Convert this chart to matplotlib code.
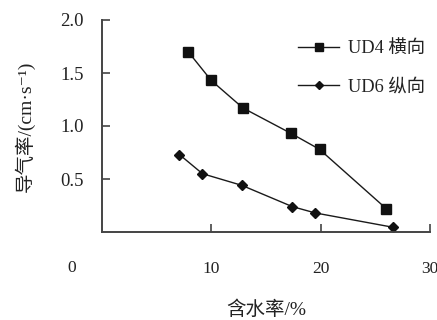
import matplotlib
matplotlib.use("Agg")
import matplotlib.pyplot as plt

# moisture content (%) and gas permeability (cm/s)
ud4_x = [7.9, 10.0, 12.9, 17.3, 19.9, 26.0]
ud4_y = [1.70, 1.43, 1.17, 0.93, 0.78, 0.22]
ud6_x = [7.1, 9.2, 12.8, 17.4, 19.5, 26.6]
ud6_y = [0.73, 0.55, 0.44, 0.24, 0.18, 0.045]
labels = ["UD4 横向", "UD6 纵向"]
x_ticks = [10, 20, 30]
y_ticks = [0.5, 1.0, 1.5, 2.0]

fonts = ["Liberation Serif", "Noto Sans CJK SC", "DejaVu Sans"]
plt.rcParams["font.family"] = fonts
plt.rcParams["font.size"] = 12
text_color = "#222222"
axis_color = "#444444"

fig = plt.figure(figsize=(4.37, 3.2), dpi=100)
ax = fig.add_axes([0.233, 0.275, 0.751, 0.6625])

ax.plot(ud4_x, ud4_y, color="#1a1a1a", lw=1.0, marker="s", ms=6.5,
        mfc="#111111", mec="#111111", label=labels[0])
ax.plot(ud6_x, ud6_y, color="#1a1a1a", lw=1.0, marker="D", ms=5.5,
        mfc="#111111", mec="#111111", label=labels[1])

ax.set_xlim(0, 30)
ax.set_ylim(0, 2.0)
ax.set_xticks(x_ticks)
ax.set_yticks(y_ticks)
ax.set_xticklabels([str(t) for t in x_ticks])
ax.set_yticklabels([f"{t:.1f}" for t in y_ticks])

for side in ["top", "right"]:
    ax.spines[side].set_visible(False)
for side in ["left", "bottom"]:
    ax.spines[side].set_color(axis_color)
    ax.spines[side].set_linewidth(1.4)

ax.tick_params(axis="both", direction="in", length=6, width=1.2,
               color=axis_color, labelcolor=text_color)
ax.tick_params(axis="x", pad=21, labelsize=12.5)
ax.tick_params(axis="y", pad=13, labelsize=13.5)

# shared origin label
ax.text(-2.8, -0.34, "0", ha="center", va="center", fontsize=12.5,
        color=text_color)

ax.set_xlabel("含水率/%", fontsize=14, color=text_color, labelpad=17)
ax.set_ylabel("导气率/(cm·s⁻¹)", fontsize=14, color=text_color, labelpad=18)

leg = ax.legend(loc="upper left", bbox_to_anchor=(0.598, 0.906), frameon=False,
                handlelength=2.24, handletextpad=0.5, labelspacing=1.17,
                borderpad=0, borderaxespad=0, fontsize=13.2, markerscale=0.8)
for t in leg.get_texts():
    t.set_color(text_color)

fig.savefig("out.png", dpi=100)
